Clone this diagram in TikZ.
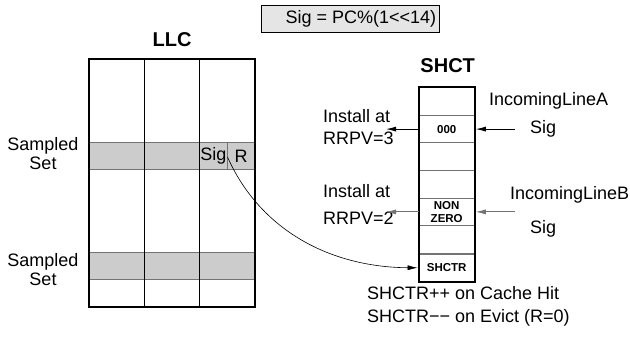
\documentclass[tikz,border=0pt]{standalone}
\usepackage{fontspec}
\setmainfont{Liberation Sans}
\usetikzlibrary{arrows.meta}
\definecolor{band}{gray}{0.80}
\definecolor{bandline}{gray}{0.45}
\definecolor{boxfill}{gray}{0.90}
\begin{document}
\begin{tikzpicture}[x=1pt,y=-1pt,
  font=\fontsize{18}{21}\selectfont,
  txt/.style={inner sep=0pt},
  ttl/.style={inner sep=0pt,font=\fontsize{20}{22}\selectfont\bfseries},
  shrow/.style={draw=bandline,line width=0.8pt,minimum width=55.3pt,minimum height=27.6pt,inner sep=0pt,font=\fontsize{11.5}{13}\selectfont\bfseries,align=center},
  arr/.style={line width=0.9pt,-{Latex[length=10pt,width=5pt]}},
  garr/.style={arr,draw=bandline}]
\useasboundingbox (0,0) rectangle (630,352);
% formula box
\node[draw,line width=0.8pt,fill=boxfill,minimum width=178pt,minimum height=27pt,inner xsep=0pt,anchor=west] (formula) at (261,18.5) {\hspace*{21pt}Sig = PC\%(1<{}<14)};
% LLC
\node[ttl] (llct) at (172,40) {LLC};
\fill[band] (89,142.7) rectangle (255,169.3);
\fill[band] (89,252.3) rectangle (255,279.3);
\draw[bandline,line width=0.8pt] (89,142.7) -- (255,142.7) (89,169.3) -- (255,169.3)
  (89,252.3) -- (255,252.3) (89,279.3) -- (255,279.3) (227,142.7) -- (227,169.3);
\draw[line width=0.9pt] (144.3,59.3) -- (144.3,307) (199.3,59.3) -- (199.3,307);
\draw[line width=2pt] (89,59.3) rectangle (255,307);
\node[txt] (sig) at (213.5,156) {Sig};
\node[txt] (rbit) at (241,156) {R};
\node[txt,align=center] (ss1) at (43,154) {Sampled\\[-2pt]Set};
\node[txt,align=center] (ss2) at (43,269.5) {Sampled\\[-2pt]Set};
% SHCT
\node[ttl] (shctt) at (447.7,66) {SHCT};
\node[shrow] (r1) at (446.7,101.5) {};
\node[shrow] (r2) at (446.7,129.1) {000};
\node[shrow] (r3) at (446.7,156.7) {};
\node[shrow] (r4) at (446.7,184.3) {};
\node[shrow] (r5) at (446.7,211.9) {NON\\[-0.5pt]ZERO};
\node[shrow] (r6) at (446.7,239.5) {};
\node[shrow] (r7) at (446.7,267.8) {SHCTR};
\draw[line width=2pt] (r1.north west) rectangle (r7.south east);
% labels
\node[txt,anchor=west] (ia3) at (323,116) {Install at};
\node[txt,anchor=west] (rr3) at (323,138) {RRPV=3};
\node[txt,anchor=west] (ia2) at (323,191) {Install at};
\node[txt,anchor=west] (rr2) at (323,218.5) {RRPV=2};
\node[txt,anchor=west] (ila) at (489,101) {IncomingLineA};
\node[txt,anchor=west] (siga) at (530,128.5) {Sig};
\node[txt,anchor=west] (ilb) at (510,195) {IncomingLineB};
\node[txt,anchor=west] (sigb) at (530,228.5) {Sig};
\node[txt,anchor=west] (hit) at (367,293.5) {SHCTR++ on Cache Hit};
\node[txt,anchor=west] (evict) at (367,317.5) {SHCTR−− on Evict (R=0)};
% arrows
\coordinate (out3) at (386,129.1);
\coordinate (out2) at (386,211.9);
\coordinate (inA) at (515,129.1);
\coordinate (inB) at (515,211.9);
\coordinate (sigstart) at (227.5,157);
\draw[arr] (r2.west) -- (out3);
\draw[garr] (r5.west) -- (out2);
\draw[arr] (inA) -- ([xshift=1pt]r2.east);
\draw[garr] (inB) -- ([xshift=1pt]r5.east);
\draw[arr,line width=0.6pt] (sigstart) .. controls (260,230) and (330,267.2) .. ([xshift=-1pt]r7.west);
\end{tikzpicture}
\end{document}
